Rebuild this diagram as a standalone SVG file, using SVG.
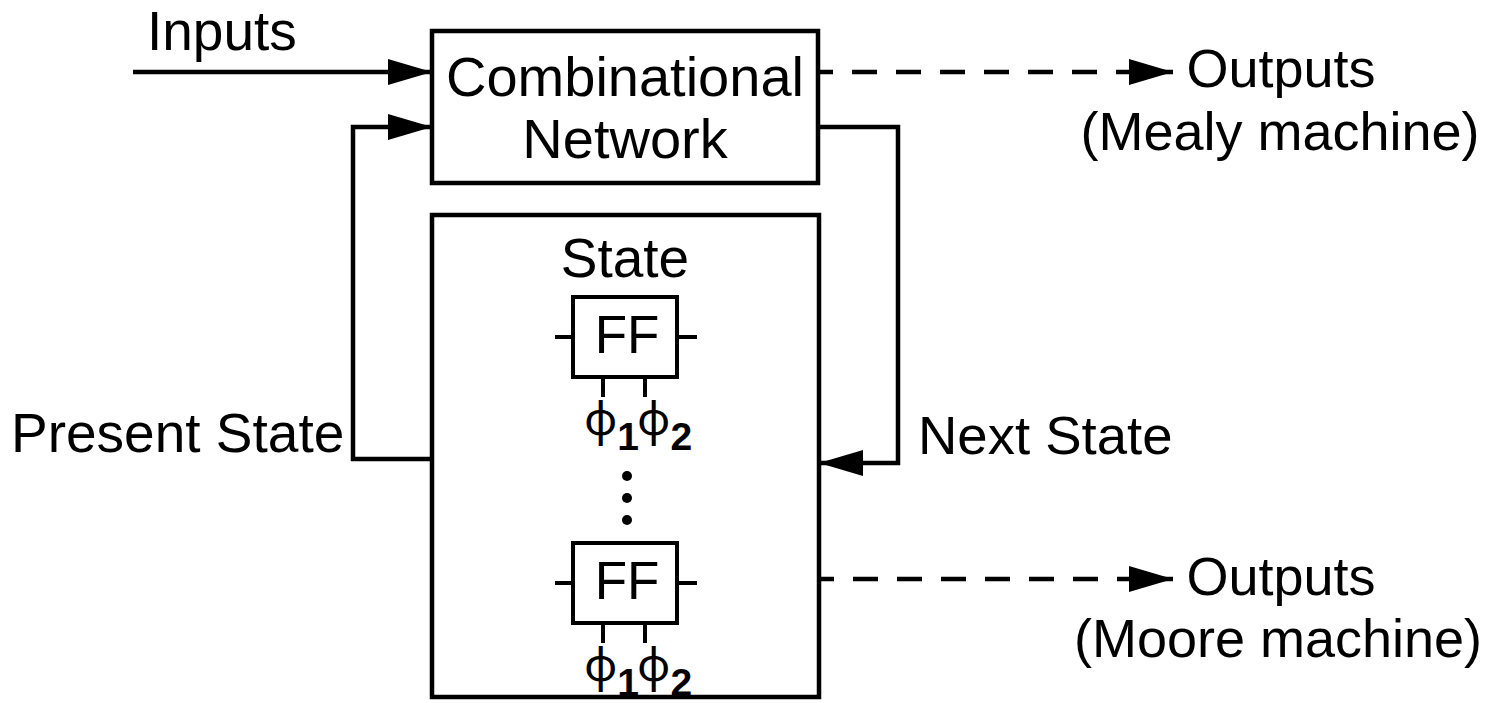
<svg xmlns="http://www.w3.org/2000/svg" width="1502" height="703" viewBox="0 0 1502 703">
  <style>
    .box { fill: none; stroke: #000; stroke-width: 4.5; }
    .ffbox { fill: none; stroke: #000; stroke-width: 4; }
    .wire { fill: none; stroke: #000; stroke-width: 4.5; }
    .stub { fill: none; stroke: #000; stroke-width: 4; }
    .dash { fill: none; stroke: #000; stroke-width: 4.5; stroke-dasharray: 25 19; stroke-dashoffset: 12; }
    .lbl { font-family: "Liberation Sans", Arial, sans-serif; font-size: 54px; fill: #000; }
    .big { font-size: 56px; }
    .mid { text-anchor: middle; }
    .ff { font-family: "Liberation Sans", Arial, sans-serif; font-size: 53px; fill: #000; text-anchor: middle; }
    .clk { fill: #000; }
    .phi { font-family: "Noto Sans", "DejaVu Sans", sans-serif; font-size: 46px; }
    .sub { font-family: "Liberation Sans", Arial, sans-serif; font-size: 39px; font-weight: bold; }
  </style>
  <defs>
    <marker id="arrow" viewBox="0 0 44 26" refX="44" refY="13" markerWidth="44" markerHeight="26" markerUnits="userSpaceOnUse" orient="auto">
      <path d="M0,0 L44,13 L0,26 Z" fill="#000"/>
    </marker>
  </defs>

  <rect width="1502" height="703" fill="#fff"/>

  <!-- combinational logic block -->
  <g id="comb">
    <rect class="box" x="432" y="31" width="386" height="152"/>
    <text class="lbl big mid" x="625" y="96">Combinational</text>
    <text class="lbl big mid" x="625" y="158">Network</text>
  </g>

  <!-- state register block -->
  <g id="state">
    <rect class="box" x="432" y="215" width="387" height="482"/>
    <text class="lbl mid" x="625" y="277" style="font-size:55px">State</text>
  </g>

  <!-- first flip-flop -->
  <g id="ff1">
    <rect class="ffbox" x="573" y="297" width="104" height="80"/>
    <path class="stub" d="M555,337 H573 M677,337 H697 M603,377 V397 M645,377 V397"/>
    <text class="ff" x="627" y="353">FF</text>
    <text class="clk" x="584" y="435"><tspan class="phi">ϕ</tspan><tspan class="sub" dy="15">1</tspan><tspan class="phi" dx="-2" dy="-15">ϕ</tspan><tspan class="sub" dy="15">2</tspan></text>
  </g>

  <!-- ellipsis between flip-flops -->
  <g id="dots" fill="#000">
    <circle cx="627" cy="476" r="5"/>
    <circle cx="627" cy="498" r="5"/>
    <circle cx="627" cy="520" r="5"/>
  </g>

  <!-- last flip-flop -->
  <g id="ff2">
    <rect class="ffbox" x="573" y="543" width="104" height="80"/>
    <path class="stub" d="M555,583 H573 M677,583 H697 M603,623 V643 M645,623 V643"/>
    <text class="ff" x="627" y="599">FF</text>
    <text class="clk" x="584" y="681"><tspan class="phi">ϕ</tspan><tspan class="sub" dy="15">1</tspan><tspan class="phi" dx="-2" dy="-15">ϕ</tspan><tspan class="sub" dy="15">2</tspan></text>
  </g>

  <!-- labels -->
  <g id="inputs-label"><text class="lbl" x="147" y="50" style="font-size:55px">Inputs</text></g>
  <g id="mealy-label">
    <text class="lbl mid" x="1281" y="87">Outputs</text>
    <text class="lbl mid" x="1280" y="150">(Mealy machine)</text>
  </g>
  <g id="moore-label">
    <text class="lbl mid" x="1281" y="595">Outputs</text>
    <text class="lbl mid" x="1278" y="657">(Moore machine)</text>
  </g>
  <g id="present-label"><text class="lbl" x="11" y="452" style="font-size:55px">Present State</text></g>
  <g id="next-label"><text class="lbl" x="918" y="454" style="font-size:54.5px">Next State</text></g>

  <!-- connectors -->
  <g id="connectors">
    <path class="wire" d="M133,72 H432" marker-end="url(#arrow)"/>
    <path class="wire" d="M432,459 H353 V127 H432" marker-end="url(#arrow)"/>
    <path class="wire" d="M818,127 H898 V463 H819" marker-end="url(#arrow)"/>
    <path class="dash" d="M820,72 H1140"/>
    <path class="wire" d="M1140,72 H1173" marker-end="url(#arrow)"/>
    <path class="dash" d="M821,579 H1140"/>
    <path class="wire" d="M1140,579 H1173" marker-end="url(#arrow)"/>
  </g>
</svg>
